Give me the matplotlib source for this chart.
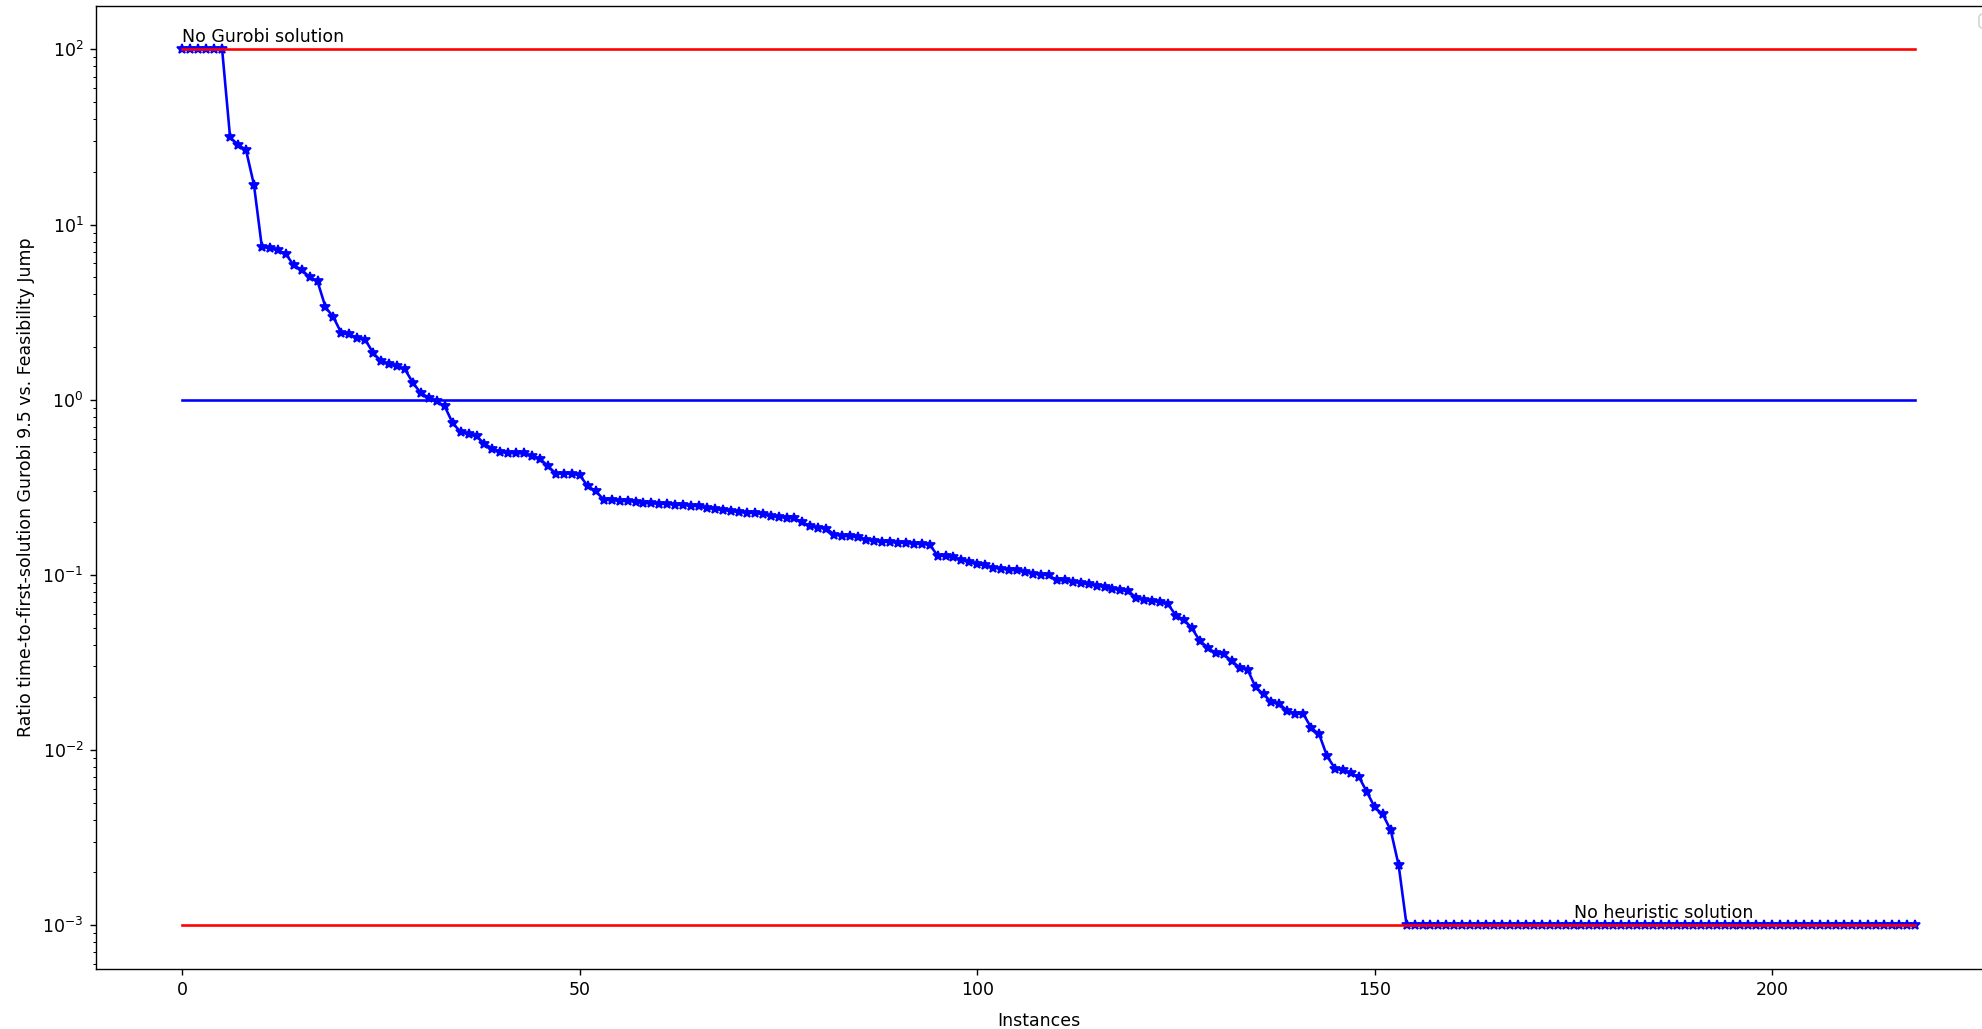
import matplotlib
matplotlib.use("Agg")
import matplotlib.pyplot as plt

# Ratio of time-to-first-solution (Gurobi 9.5 / Feasibility Jump), sorted descending
ratios = [
    100, 100, 100, 100, 100, 100,
    31.5, 28.6, 26.7, 16.9, 7.45, 7.35, 7.13, 6.82, 5.85, 5.53,
    5.01, 4.74, 3.38, 2.96, 2.40, 2.36, 2.26, 2.20, 1.85, 1.66,
    1.59, 1.55, 1.49, 1.25, 1.09, 1.03, 0.98, 0.917, 0.736, 0.655,
    0.635, 0.618, 0.561, 0.526, 0.503, 0.496, 0.495, 0.494, 0.475, 0.461,
    0.417, 0.379, 0.379, 0.378, 0.370, 0.321, 0.301, 0.269, 0.267, 0.265,
    0.264, 0.262, 0.257, 0.256, 0.255, 0.254, 0.252, 0.250, 0.249, 0.246,
    0.240, 0.238, 0.234, 0.232, 0.228, 0.227, 0.225, 0.223, 0.216, 0.214,
    0.212, 0.210, 0.200, 0.189, 0.186, 0.184, 0.170, 0.167, 0.166, 0.164,
    0.159, 0.156, 0.155, 0.154, 0.153, 0.152, 0.151, 0.150, 0.149, 0.129,
    0.128, 0.126, 0.122, 0.119, 0.115, 0.1135, 0.110, 0.1087, 0.107, 0.106,
    0.104, 0.1017, 0.1005, 0.0995, 0.0932, 0.0930, 0.0911, 0.0900, 0.0883, 0.0870,
    0.0853, 0.0835, 0.0818, 0.0809, 0.0741, 0.0716, 0.0710, 0.0700, 0.0679, 0.0585,
    0.0556, 0.0495, 0.0420, 0.0385, 0.0356, 0.0352, 0.0323, 0.0296, 0.0288, 0.0229,
    0.0208, 0.0188, 0.0184, 0.0167, 0.0161, 0.0161, 0.0134, 0.0123, 0.00922, 0.00784,
    0.00765, 0.00735, 0.00703, 0.00577, 0.00470, 0.00430, 0.00349, 0.00220,
    0.001, 0.001, 0.001, 0.001, 0.001, 0.001, 0.001, 0.001, 0.001, 0.001,
    0.001, 0.001, 0.001, 0.001, 0.001, 0.001, 0.001, 0.001, 0.001, 0.001,
    0.001, 0.001, 0.001, 0.001, 0.001, 0.001, 0.001, 0.001, 0.001, 0.001,
    0.001, 0.001, 0.001, 0.001, 0.001, 0.001, 0.001, 0.001, 0.001, 0.001,
    0.001, 0.001, 0.001, 0.001, 0.001, 0.001, 0.001, 0.001, 0.001, 0.001,
    0.001, 0.001, 0.001, 0.001, 0.001, 0.001, 0.001, 0.001, 0.001, 0.001,
    0.001, 0.001, 0.001, 0.001, 0.001,
]
instances = list(range(len(ratios)))

no_gurobi_value = 100
no_heuristic_value = 0.001
parity_value = 1

DPI = 125
fig = plt.figure(figsize=(1982 / DPI, 1029 / DPI), dpi=DPI)
ax = fig.add_axes([0.0483, 0.0583, 0.9618, 0.9362])

ax.plot(instances, ratios, "b-*")
last = instances[-1]
ax.plot([0, last], [no_gurobi_value, no_gurobi_value], "r-")
ax.plot([0, last], [parity_value, parity_value], "b-")
ax.plot([0, last], [no_heuristic_value, no_heuristic_value], "r-")

ax.text(0, no_gurobi_value * 1.1, "No Gurobi solution")
ax.text(175, no_heuristic_value * 1.1, "No heuristic solution")

ax.set_yscale("log")
ax.set_xlabel("Instances", labelpad=7.5, x=0.4948)
ax.set_ylabel("Ratio time-to-first-solution Gurobi 9.5 vs. Feasibility Jump")
ax.legend(handles=[], loc="upper right")

fig.savefig("out.png", dpi=DPI)
